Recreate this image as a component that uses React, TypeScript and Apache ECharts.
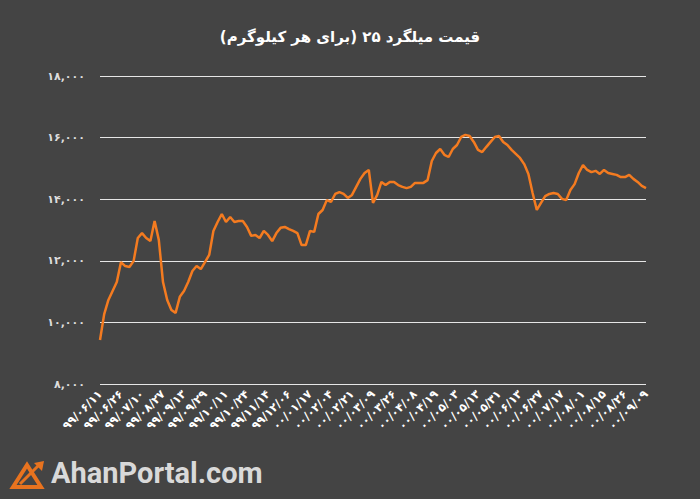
import React, { useEffect, useRef } from "react";
import * as echarts from "echarts";

const titleText = "\u200Fقیمت میلگرد ۲۵ (برای هر کیلوگرم)\u200F";
const brandText = "AhanPortal.com";

// tick labels (every 5th point)
const dateLabels = [
  "۹۹/۰۶/۱۱", "۹۹/۰۶/۲۶", "۹۹/۰۷/۱۰", "۹۹/۰۸/۲۷", "۹۹/۰۹/۱۳", "۹۹/۰۹/۲۹",
  "۹۹/۱۰/۱۱", "۹۹/۱۰/۲۴", "۹۹/۱۱/۱۴", "۹۹/۱۲/۰۶", "۰۰/۰۱/۱۷", "۰۰/۰۲/۰۴",
  "۰۰/۰۲/۲۱", "۰۰/۰۳/۰۹", "۰۰/۰۳/۲۶", "۰۰/۰۴/۰۸", "۰۰/۰۴/۱۹", "۰۰/۰۵/۰۳",
  "۰۰/۰۵/۱۳", "۰۰/۰۵/۳۱", "۰۰/۰۶/۱۳", "۰۰/۰۶/۲۷", "۰۰/۰۷/۱۷", "۰۰/۰۸/۰۱",
  "۰۰/۰۸/۱۵", "۰۰/۰۸/۲۶", "۰۰/۰۹/۰۹",
];
const pointsPerLabel = 5;

// price per kg
const prices = [
  9430, 10270, 10730, 11020, 11310, 11960, 11830, 11800, 11990, 12740,
  12900, 12740, 12640, 13290, 12680, 11310, 10730, 10400, 10310, 10830,
  11020, 11310, 11670, 11830, 11730, 11960, 12190, 12970, 13260, 13520,
  13260, 13420, 13260, 13290, 13290, 13100, 12810, 12840, 12740, 12970,
  12840, 12640, 12900, 13070, 13100, 13030, 12970, 12900, 12510, 12510,
  12970, 12940, 13520, 13650, 13970, 13910, 14170, 14230, 14170, 14040,
  14140, 14400, 14660, 14850, 14950, 13880, 14140, 14560, 14460, 14560,
  14560, 14460, 14400, 14360, 14400, 14530, 14530, 14530, 14620, 15240,
  15500, 15630, 15440, 15370, 15630, 15760, 16020, 16090, 16050, 15860,
  15600, 15530, 15700, 15860, 16020, 16050, 15860, 15760, 15600, 15470,
  15340, 15140, 14820, 14200, 13650, 13880, 14100, 14170, 14200, 14170,
  14010, 13970, 14300, 14490, 14850, 15110, 14950, 14880, 14920, 14820,
  14950, 14850, 14820, 14790, 14720, 14720, 14790, 14660, 14560, 14430,
  14360,
];

const yMin = 8000;
const yMax = 18000;
const yStep = 2000;

const faDigits = "۰۱۲۳۴۵۶۷۸۹";
const toFa = (s: string) => s.replace(/\d/g, (d) => faDigits[Number(d)]);

export default function App() {
  const ref = useRef<HTMLDivElement>(null);
  useEffect(() => {
    if (!ref.current) return;
    const chart = echarts.init(ref.current, null, { renderer: "svg" });
    const seriesData = prices.map((v, i) => [i, v]);
    chart.setOption({
      animation: false,
      backgroundColor: "#444444",
      title: {
        text: titleText,
        left: "center",
        top: 24,
        textStyle: {
          color: "#ffffff",
          fontSize: 15,
          fontWeight: "bold",
          fontFamily: "DejaVu Sans",
        },
      },
      grid: { left: 100, right: 54, top: 76, bottom: 115 },
      xAxis: {
        type: "value",
        min: 0,
        max: prices.length - 1,
        interval: pointsPerLabel,
        axisLine: { show: false },
        axisTick: { show: false },
        splitLine: { show: false },
        axisLabel: {
          rotate: 45,
          margin: 8,
          color: "#ffffff",
          fontSize: 11.5,
          fontWeight: "bold",
          fontFamily: "DejaVu Sans",
          showMinLabel: true,
          showMaxLabel: true,
          formatter: (v: number) => dateLabels[Math.round(v / pointsPerLabel)] ?? "",
        },
      },
      yAxis: {
        type: "value",
        min: yMin,
        max: yMax,
        interval: yStep,
        axisLine: { show: false },
        axisTick: { show: false },
        splitLine: { lineStyle: { color: "#e6e6e6", width: 1 } },
        axisLabel: {
          color: "#dddddd",
          fontSize: 11,
          fontWeight: "bold",
          margin: 15,
          fontFamily: "DejaVu Sans",
          formatter: (v: number) => toFa(v.toLocaleString("en-US")),
        },
      },
      series: [
        {
          type: "line",
          data: seriesData,
          showSymbol: false,
          smooth: false,
          lineStyle: { color: "#f47b20", width: 2.5 },
          itemStyle: { color: "#f47b20" },
        },
      ],
      graphic: [
        {
          type: "polygon",
          shape: { points: [[13, 487], [27, 465], [41, 487]] },
          style: { fill: "none", stroke: "#e8731f", lineWidth: 4 },
        },
        {
          type: "line",
          shape: { x1: 20, y1: 484, x2: 38, y2: 466 },
          style: { stroke: "#e8731f", lineWidth: 3 },
        },
        {
          type: "polygon",
          shape: { points: [[34, 463], [44, 461], [42, 471]] },
          style: { fill: "#e8731f" },
        },
        {
          type: "text",
          left: 51,
          top: 458,
          style: {
            text: brandText,
            fill: "#d9d9d9",
            fontSize: 29,
            fontWeight: "bold",
            fontFamily: "Roboto",
          },
        },
      ],
    });
    return () => chart.dispose();
  }, []);
  return (
    <div
      ref={ref}
      style={{ position: "fixed", left: 0, top: 0, width: 700, height: 499 }}
    />
  );
}
